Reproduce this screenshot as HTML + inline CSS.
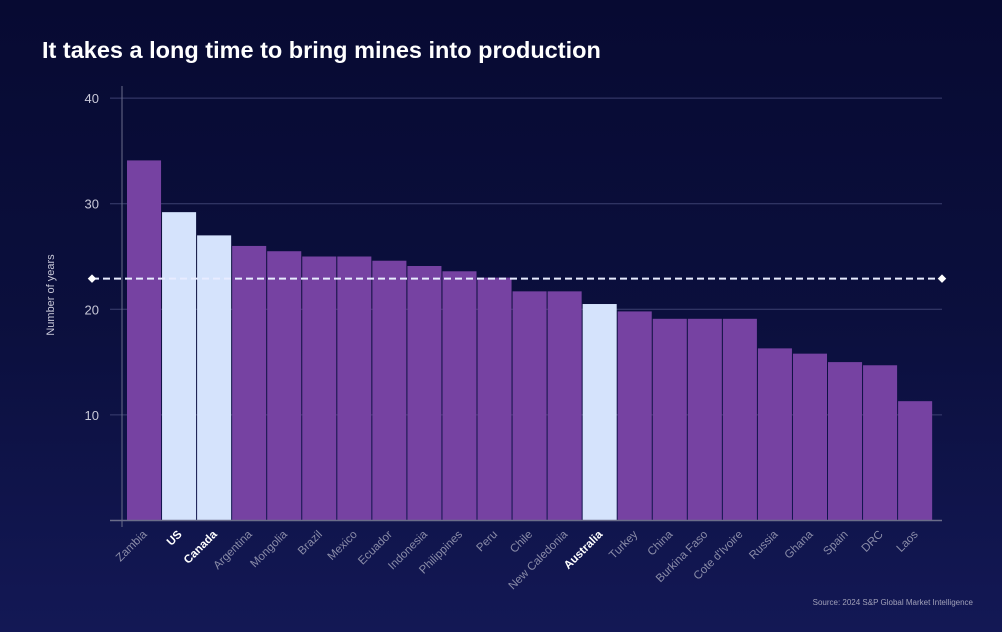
<!DOCTYPE html>
<html><head><meta charset="utf-8"><style>
html,body{margin:0;width:1002px;height:632px;overflow:hidden;background:linear-gradient(180deg,#070a32 0%,#0b0f3d 50%,#131855 100%);font-family:"Liberation Sans",sans-serif}
svg{display:block}
</style></head><body>
<svg id="c" width="1002" height="632">
<text x="42" y="58" fill="#fff" font-size="23.5" font-weight="bold">It takes a long time to bring mines into production</text>
<text transform="translate(54,295) rotate(-90)" text-anchor="middle" fill="#c8c8d8" font-size="11">Number of years</text>
<text x="973" y="605" text-anchor="end" fill="#a0a0b8" font-size="8">Source: 2024 S&amp;P Global Market Intelligence</text>
</svg>
<script>
const categories=["Zambia","US","Canada","Argentina","Mongolia","Brazil","Mexico","Ecuador","Indonesia","Philippines","Peru","Chile","New Caledonia","Australia","Turkey","China","Burkina Faso","Cote d'Ivoire","Russia","Ghana","Spain","DRC","Laos"];
const values=[34.1,29.2,27.0,26.0,25.5,25.0,25.0,24.6,24.1,23.6,23.0,21.7,21.7,20.5,19.8,19.1,19.1,19.1,16.3,15.8,15.0,14.7,11.3];
const highlighted=["US","Canada","Australia"];
const yTicks=[10,20,30,40];
const average=[22.9];
const NS="http://www.w3.org/2000/svg",svg=document.getElementById('c');
const y=v=>520.5-v*10.56;
const x0=127,pitch=35.05;
const x=i=>x0+i*pitch;
function mk(t,a,p){const e=document.createElementNS(NS,t);for(const k in a)e.setAttribute(k,a[k]);(p||svg).appendChild(e);return e;}
yTicks.forEach(t=>{
 const g=mk('line',{x1:110,x2:942,y1:y(t),y2:y(t),stroke:'#3c4070','stroke-width':1});
 
 
 const l=mk('text',{x:99,y:y(t)+5,'text-anchor':'end',fill:'#c8c8d8','font-size':13});
 l.textContent=t;
 
 
});
const ax=mk('line',{x1:122,x2:122,y1:86,y2:527,stroke:'#6a6d8a'});


categories.forEach((c,i)=>{
 const hl=highlighted.includes(c);
 const r=mk('rect',{x:x(i),y:y(values[i]),width:pitch-1,height:y(0)-y(values[i]),fill:hl?'#d5e3fc':'#7642a2'});
 
 
 const cx=x(i)+pitch/2+3;
 const t=mk('text',{transform:`translate(${cx},535) rotate(-45)`,'text-anchor':'end',fill:hl?'#fff':'#8a8ca8','font-size':11.5,'font-weight':hl?'bold':'normal'});
 t.textContent=c;
 
 
});
const bl=mk('line',{x1:110,x2:942,y1:520.5,y2:520.5,stroke:'#6a6d8a','stroke-width':1.5});


const ay=y(average[0]);
const al=mk('line',{x1:92,x2:942,y1:ay,y2:ay,stroke:'#e8ecff','stroke-width':2,'stroke-dasharray':'7,4'});


[92,942].forEach((px,k)=>{
 const d=mk('rect',{x:px-3,y:ay-3,width:6,height:6,fill:'#fff',transform:`rotate(45 ${px} ${ay})`});
 
 
});
</script>
</body></html>
